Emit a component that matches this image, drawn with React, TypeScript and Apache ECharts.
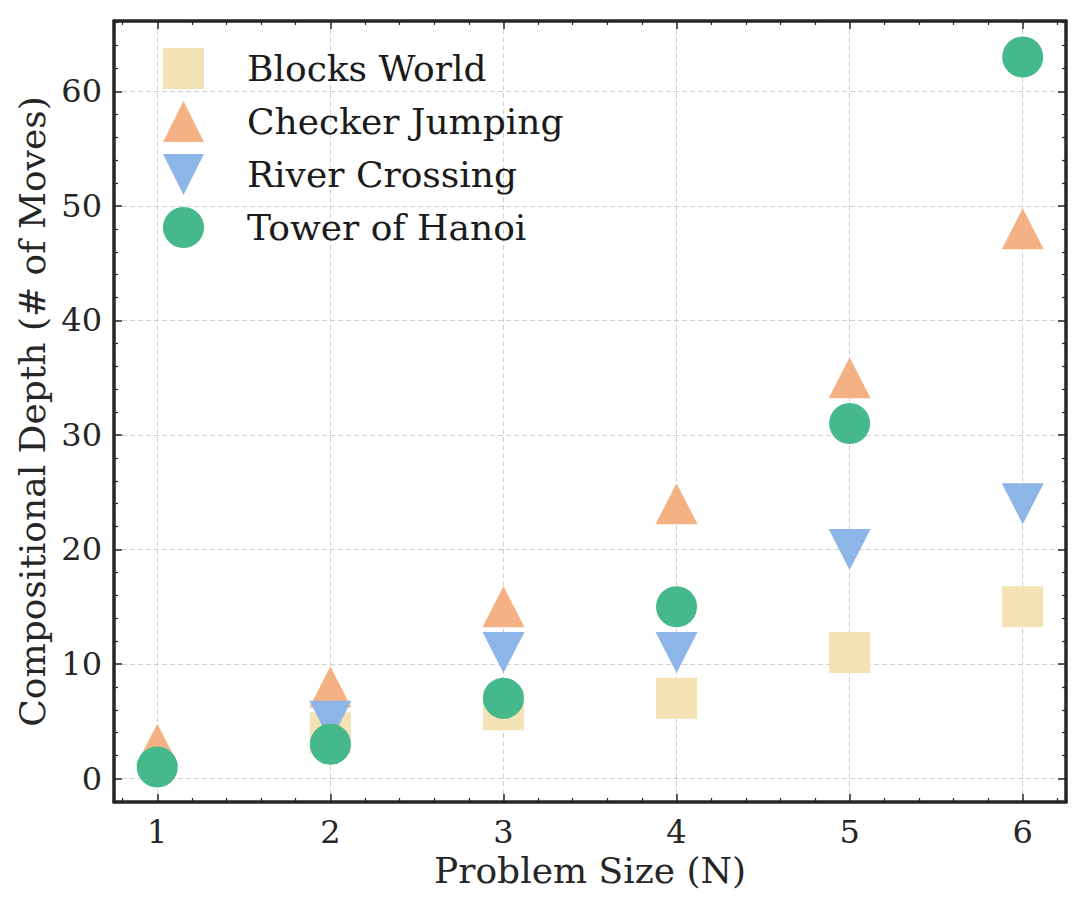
import React, { useEffect, useRef } from "react";
import * as echarts from "echarts";

// Problem sizes and the compositional depth (number of moves) per puzzle
const problemSizes = [1, 2, 3, 4, 5, 6];
const blocksWorld = [null, 4, 6, 7, 11, 15];
const checkerJumping = [3, 8, 15, 24, 35, 48];
const riverCrossing = [null, 5, 11, 11, 20, 24];
const towerOfHanoi = [1, 3, 7, 15, 31, 63];

const seriesNames = ["Blocks World", "Checker Jumping", "River Crossing", "Tower of Hanoi"];
const seriesColors = ["#F3E2B4", "#F4B183", "#8DB5E8", "#45B98B"];

const FONT = "'DejaVu Serif', serif";
const INK = "#262626";

// Downward-pointing triangle marker (also used by the legend)
const TRIANGLE_DOWN = "path://M0,0 L2,0 L1,2 Z";

function pairs(values: (number | null)[]) {
  const out: [number, number][] = [];
  values.forEach((v, i) => {
    if (v !== null) out.push([problemSizes[i], v]);
  });
  return out;
}

export default function App() {
  const ref = useRef<HTMLDivElement>(null);

  useEffect(() => {
    document.body.style.margin = "0";
    if (!ref.current) return;
    const chart = echarts.init(ref.current, undefined, { renderer: "svg" });

    const gridLine = { show: true, showMinLine: false, showMaxLine: false, lineStyle: { color: "#cfcfcf", width: 1, type: [5, 3] } };
    const frameLine = { show: true, onZero: false, lineStyle: { color: INK, width: 3.5 } };
    const majorTick = { show: true, inside: true, length: 8, lineStyle: { color: INK, width: 1.5 } };
    const minorTick = { show: true, splitNumber: 5, length: 4, lineStyle: { color: INK, width: 1.2 } };

    const xBase = { type: "value", min: 0.75, max: 6.25, splitNumber: 5 };
    const yBase = { type: "value", min: -2.05, max: 66.15, splitNumber: 7 };

    const datasets = [blocksWorld, checkerJumping, riverCrossing, towerOfHanoi];
    const symbols = ["rect", "triangle", TRIANGLE_DOWN, "circle"];
    const sizes: (number | number[])[] = [41, [42, 41], [42, 41], 41];

    chart.setOption({
      animation: false,
      textStyle: { fontFamily: FONT },
      grid: { left: 114, top: 21, right: 17, bottom: 96, containLabel: false },
      legend: {
        orient: "vertical",
        left: 158,
        top: 43,
        itemWidth: 41,
        itemHeight: 41,
        itemGap: 12,
        data: seriesNames,
        textStyle: { fontFamily: FONT, fontSize: 36, color: "#1a1a1a", padding: [0, 0, 0, 38] },
      },
      xAxis: [
        {
          ...xBase,
          position: "bottom",
          name: "Problem Size (N)",
          nameLocation: "middle",
          nameGap: 43,
          nameTextStyle: { fontFamily: FONT, fontSize: 36, color: INK },
          axisLine: frameLine,
          axisTick: majorTick,
          minorTick,
          splitLine: gridLine,
          axisLabel: {
            showMinLabel: false,
            showMaxLabel: false,
            margin: 14,
            fontFamily: FONT,
            fontSize: 32,
            color: INK,
            formatter: (v: number) => (Number.isInteger(v) ? String(v) : ""),
          },
        },
        {
          ...xBase,
          position: "top",
          axisLine: frameLine,
          axisTick: majorTick,
          minorTick,
          splitLine: { show: false },
          axisLabel: { show: false },
        },
      ],
      yAxis: [
        {
          ...yBase,
          position: "left",
          name: "Compositional Depth (# of Moves)",
          nameLocation: "middle",
          nameGap: 63,
          nameRotate: 90,
          nameTextStyle: { fontFamily: FONT, fontSize: 36, color: INK },
          axisLine: frameLine,
          axisTick: majorTick,
          minorTick,
          splitLine: gridLine,
          axisLabel: {
            showMinLabel: false,
            showMaxLabel: false,
            margin: 12,
            fontFamily: FONT,
            fontSize: 32,
            color: INK,
            formatter: (v: number) => (Number.isInteger(v) ? String(Math.abs(v) === 0 ? 0 : v) : ""),
          },
        },
        {
          ...yBase,
          position: "right",
          axisLine: frameLine,
          axisTick: majorTick,
          minorTick,
          splitLine: { show: false },
          axisLabel: { show: false },
        },
      ],
      series: seriesNames.map((name, i) => ({
        name,
        type: "scatter",
        xAxisIndex: 0,
        yAxisIndex: 0,
        data: pairs(datasets[i]),
        symbol: symbols[i],
        symbolSize: sizes[i],
        itemStyle: { color: seriesColors[i], opacity: 1 },
        emphasis: { disabled: true },
      })),
    });

    return () => chart.dispose();
  }, []);

  return <div ref={ref} style={{ width: 1083, height: 898 }} />;
}
